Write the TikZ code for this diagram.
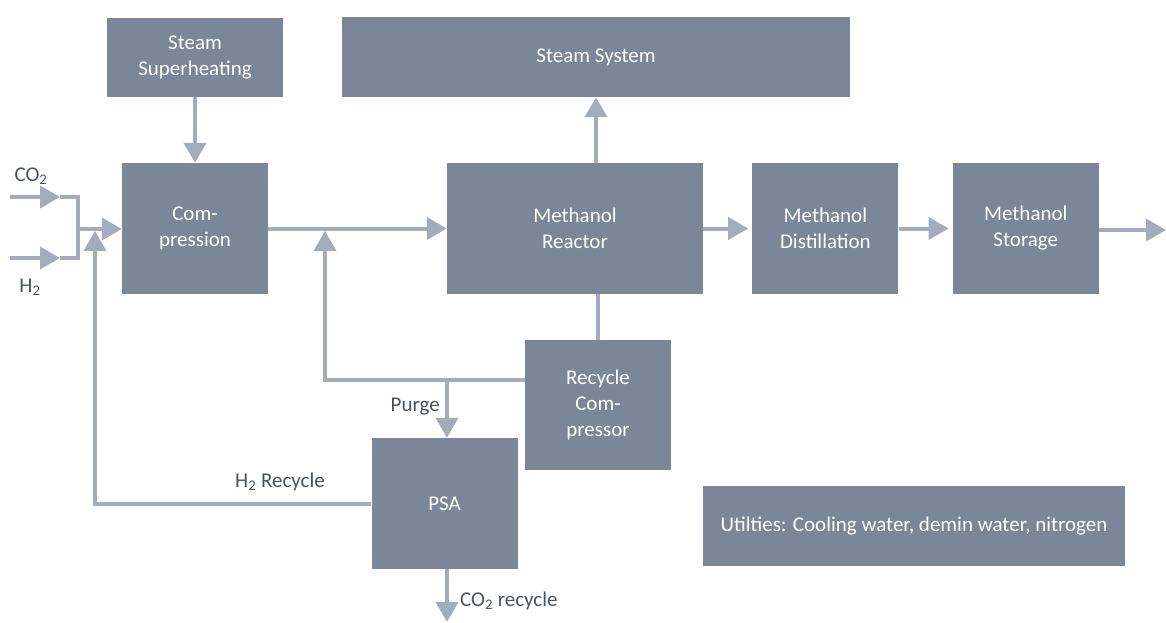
\documentclass[tikz,border=0pt]{standalone}
\usepackage{fontspec}
\setmainfont{Carlito}
\usetikzlibrary{arrows.meta, positioning}
\definecolor{boxgray}{RGB}{123,134,153}
\definecolor{linegray}{RGB}{164,172,187}
\definecolor{labelgray}{RGB}{75,83,97}
\tikzstyle{block} = [rectangle, fill=boxgray, text=white, align=center, inner sep=0pt, minimum width=146pt, minimum height=131pt, font=\fontsize{21}{26}\selectfont]
\tikzstyle{flowlabel} = [text=labelgray, inner sep=0pt, font=\fontsize{21}{26}\selectfont]
\tikzstyle{pipe} = [line width=4pt, draw=linegray]
\tikzstyle{flowarrow} = [pipe, -{Triangle[length=20pt, width=22pt]}]
\begin{document}
\begin{tikzpicture}[x=1pt, y=-1pt]
\useasboundingbox (0,0) rectangle (1166,622);

% Nodes
\node (superheat) [block, minimum width=176pt, minimum height=79pt] at (195,57) {Steam\\Superheating};
\node (steamsys) [block, minimum width=508pt, minimum height=80pt] at (596,57) {Steam System};
\node (compression) [block] at (195,228.5) {Com-\\pression};
\node (reactor) [block, minimum width=256pt] at (575,228.5) {Methanol\\Reactor};
\node (distill) [block, right=49pt of reactor] {Methanol\\Distillation};
\node (storage) [block, right=54pt of distill] {Methanol\\Storage};
\node (recycle) [block, minimum height=130pt] at (598,405) {Recycle\\Com-\\pressor};
\node (psa) [block] at (444.5,503.5) {PSA};
\node (utilities) [block, minimum width=422pt, minimum height=80pt] at (914,526) {Utilties: Cooling water, demin water, nitrogen};

% Coordinates
\coordinate (co2in) at (10,197);
\coordinate (co2tip) at (60,197);
\coordinate (h2in) at (10,258);
\coordinate (h2tip) at (60,258);
\coordinate (merge) at (78,229);
\coordinate (h2ret) at (95,504);
\coordinate (h2rettip) at (95,231);
\coordinate (recjoin) at (325,380);
\coordinate (rectip) at (325,231);
\coordinate (purge) at (447,380);
\coordinate (co2out) at (447,622);
\coordinate (prodout) at (1166,230);

% Labels
\node (co2lbl) [flowlabel] at (31,176) {CO\textsubscript{2}};
\node (h2lbl) [flowlabel] at (30,287) {H\textsubscript{2}};
\node (purgelbl) [flowlabel, anchor=east] at (440,407) {Purge};
\node (h2reclbl) [flowlabel] at (280,482) {H\textsubscript{2} Recycle};
\node (co2reclbl) [flowlabel, anchor=west] at (460,601) {CO\textsubscript{2} recycle};

% Arrows
\draw [flowarrow] (co2in) -- (co2tip);
\draw [flowarrow] (h2in) -- (h2tip);
\draw [pipe] (co2tip) -| (merge) |- (h2tip);
\draw [flowarrow] (merge) -- (compression.west |- merge);
\draw [flowarrow] (psa.west |- h2ret) -- (h2ret) -- (h2rettip);
\draw [flowarrow] (superheat) -- (compression);
\draw [flowarrow] (compression) -- (reactor);
\draw [flowarrow] (recycle.west |- recjoin) -- (recjoin) -- (rectip);
\draw [flowarrow] (purge) -- (purge |- psa.north);
\draw [pipe] (reactor.south -| recycle) -- (recycle);
\draw [flowarrow] (reactor.north -| steamsys) -- (steamsys);
\draw [flowarrow] (reactor) -- ([xshift=-4pt]distill.west);
\draw [flowarrow] (distill) -- ([xshift=-4pt]storage.west);
\draw [flowarrow] (storage.east |- prodout) -- (prodout);
\draw [flowarrow] (psa.south -| co2out) -- (co2out);

\end{tikzpicture}
\end{document}
